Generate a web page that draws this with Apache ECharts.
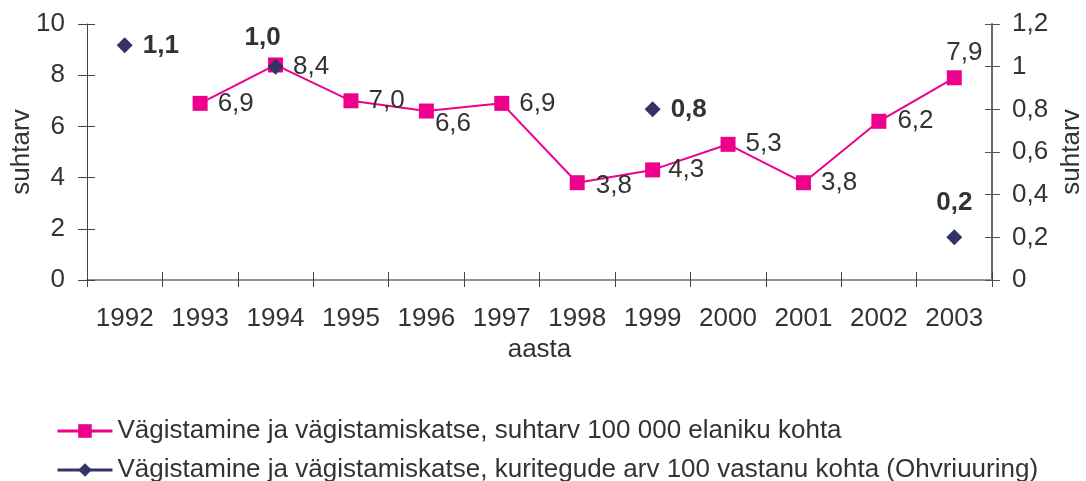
<!DOCTYPE html>
<html>
<head>
<meta charset="utf-8">
<script src="https://cdn.jsdelivr.net/npm/echarts@6/dist/echarts.min.js"></script>
<style>
  html, body { margin: 0; padding: 0; background: #fff; }
  #chart { width: 1086px; height: 481px; }
</style>
</head>
<body>
<div id="chart"></div>
<script>
const years = ['1992', '1993', '1994', '1995', '1996', '1997', '1998', '1999', '2000', '2001', '2002', '2003']
const rateValues = [null, 6.9, 8.4, 7.0, 6.6, 6.9, 3.8, 4.3, 5.3, 3.8, 6.2, 7.9]
const surveyValues = [1.1, null, 1.0, null, null, null, null, 0.8, null, null, null, 0.2]
const rateName = 'Vägistamine ja vägistamiskatse, suhtarv 100 000 elaniku kohta'
const surveyName = 'Vägistamine ja vägistamiskatse, kuritegude arv 100 vastanu kohta (Ohvriuuring)'

const PINK = '#EC008C'
const NAVY = '#333366'
const TEXT = '#333333'
const FONT = '"Liberation Sans", Arial, sans-serif'
const FS = 26

// label placement per point (styling only)
const rateLabelPos = [
  null,
  { position: 'right', distance: 10 },
  { position: 'right', distance: 10, offset: [0, 2] },
  { position: 'right', distance: 10 },
  { position: 'right', distance: 1, offset: [0, 13] },
  { position: 'right', distance: 10 },
  { position: 'right', distance: 11, offset: [0, 3] },
  { position: 'right', distance: 8 },
  { position: 'right', distance: 10 },
  { position: 'right', distance: 10 },
  { position: 'right', distance: 11 },
  { position: 'top', distance: 4, offset: [10, 0] },
]
const surveyLabelPos = [
  { position: 'right', distance: 10 },
  null,
  { position: 'top', distance: 8, offset: [-13, 0] },
  null, null, null, null,
  { position: 'right', distance: 10 },
  null, null, null,
  { position: 'top', distance: 14 },
]

const comma = (v) => Number(v).toFixed(1).replace('.', ',')

const chart = echarts.init(document.getElementById('chart'))

const tickStyle = { color: '#444', width: 1 }
const legendBase = {
  orient: 'vertical',
  left: 51,
  itemWidth: 55,
  itemHeight: 17,
  lineStyle: { width: 3 },
  textStyle: { fontSize: FS, color: TEXT, fontFamily: FONT },
}

chart.setOption({
  animation: false,
  textStyle: { fontFamily: FONT },
  grid: { left: 87, right: 94, top: 24, bottom: 201, outerBoundsMode: 'none', containLabel: false },
  legend: [
    Object.assign({}, legendBase, { top: 413, data: [rateName] }),
    Object.assign({}, legendBase, { top: 452, data: [surveyName] }),
  ],
  xAxis: [
    {
      type: 'category',
      data: years,
      position: 'bottom',
      name: 'aasta',
      nameLocation: 'middle',
      nameGap: 57,
      nameMoveOverlap: false,
      nameTextStyle: { fontSize: FS, color: TEXT },
      axisLine: { lineStyle: { color: '#444', width: 1 } },
      axisTick: { show: true, length: 7, lineStyle: tickStyle },
      axisLabel: { fontSize: FS, color: TEXT, margin: 26 },
      splitLine: { show: false },
    },
    {
      type: 'category',
      data: years,
      position: 'bottom',
      axisLine: { show: false },
      axisTick: { show: true, inside: true, length: 8, lineStyle: tickStyle },
      axisLabel: { show: false },
      splitLine: { show: false },
    },
    {
      type: 'category',
      data: years,
      position: 'top',
      axisLine: { lineStyle: { color: '#9b918c', width: 2 } },
      axisTick: { show: false },
      axisLabel: { show: false },
      splitLine: { show: false },
    },
  ],
  yAxis: [
    {
      type: 'value',
      position: 'left',
      min: 0,
      max: 10,
      interval: 2,
      name: 'suhtarv',
      nameLocation: 'middle',
      nameRotate: 90,
      nameGap: 52,
      nameMoveOverlap: false,
      nameTextStyle: { fontSize: FS, color: TEXT },
      axisLine: { show: true, lineStyle: { color: '#444', width: 1 } },
      axisTick: { show: true, length: 9, lineStyle: tickStyle },
      axisLabel: { fontSize: FS, color: TEXT, margin: 22 },
      splitLine: { show: false },
    },
    {
      type: 'value',
      position: 'right',
      min: 0,
      max: 1.2,
      interval: 0.2,
      name: 'suhtarv',
      nameLocation: 'middle',
      nameRotate: 90,
      nameGap: 66,
      nameTextStyle: { fontSize: FS, color: TEXT },
      axisLine: { show: true, lineStyle: { color: '#666', width: 2 } },
      axisTick: { show: true, length: 8, lineStyle: { color: '#555', width: 1 } },
      axisLabel: {
        fontSize: FS,
        color: TEXT,
        margin: 20,
        formatter: (v) => String(Number(v.toFixed(1))).replace('.', ','),
      },
      splitLine: { show: false },
    },
    {
      type: 'value',
      position: 'left',
      min: 0,
      max: 10,
      interval: 2,
      axisLine: { show: false },
      axisTick: { show: true, inside: true, length: 8, lineStyle: tickStyle },
      axisLabel: { show: false },
      splitLine: { show: false },
    },
    {
      type: 'value',
      position: 'right',
      min: 0,
      max: 1.2,
      interval: 0.2,
      axisLine: { show: false },
      axisTick: { show: true, inside: true, length: 7, lineStyle: { color: '#555', width: 1 } },
      axisLabel: { show: false },
      splitLine: { show: false },
    },
  ],
  series: [
    {
      name: rateName,
      type: 'line',
      xAxisIndex: 0,
      yAxisIndex: 0,
      symbol: 'rect',
      symbolSize: 15,
      connectNulls: false,
      itemStyle: { color: PINK },
      lineStyle: { color: PINK, width: 2 },
      label: {
        show: true,
        fontSize: FS,
        color: TEXT,
        formatter: (p) => comma(p.value),
      },
      data: rateValues.map((v, i) => ({
        value: v,
        label: rateLabelPos[i] || undefined,
      })),
      z: 3,
    },
    {
      name: surveyName,
      type: 'line',
      xAxisIndex: 0,
      yAxisIndex: 1,
      symbol: 'diamond',
      symbolSize: 16,
      connectNulls: false,
      itemStyle: { color: NAVY },
      lineStyle: { color: NAVY, width: 2 },
      label: {
        show: true,
        fontSize: FS,
        fontWeight: 'bold',
        color: TEXT,
        formatter: (p) => comma(p.value),
      },
      data: surveyValues.map((v, i) => ({
        value: v,
        label: surveyLabelPos[i] || undefined,
      })),
      z: 4,
    },
  ],
})
</script>
</body>
</html>
